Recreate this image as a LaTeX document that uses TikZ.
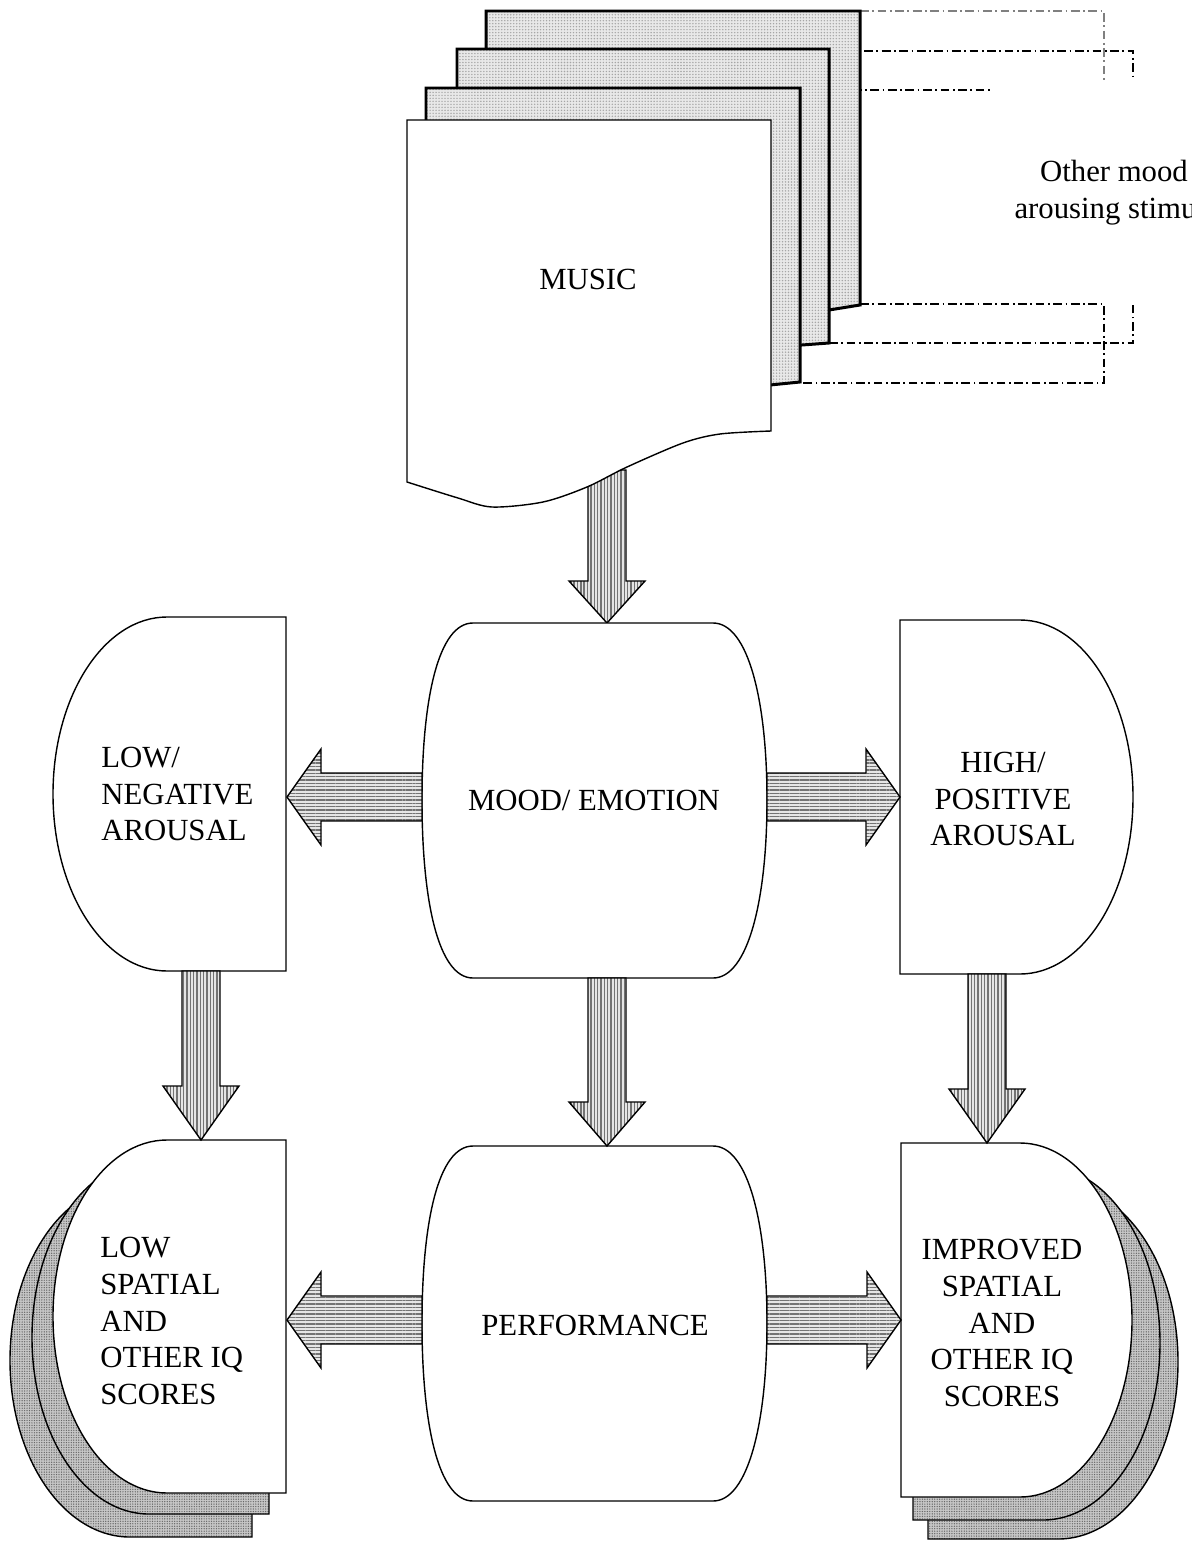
\documentclass[tikz,border=0pt]{standalone}
\usepackage{fontspec}
\setmainfont{Liberation Serif}
\usetikzlibrary{calc,patterns.meta}

\tikzset{
  box/.style={draw,line width=0.8pt,fill=white},
  page/.style={draw,line width=1.7pt,preaction={fill=gray!18},
    pattern={Dots[distance=1.7pt,radius=0.45pt]},pattern color=gray!70},
  shade/.style={draw,line width=0.8pt,preaction={fill=gray!45},
    pattern={Dots[distance=1.4pt,radius=0.4pt]},pattern color=black!60},
  vstripe/.style={draw,line width=0.8pt,preaction={fill=gray!20},
    pattern={Lines[angle=90,distance=1.9pt,line width=0.8pt]},pattern color=black!55},
  hstripe/.style={draw,line width=0.8pt,preaction={fill=gray!20},
    pattern={Lines[angle=0,distance=1.9pt,line width=0.8pt]},pattern color=black!55},
  txt/.style={font=\fontsize{17.5}{21}\selectfont,align=center,inner sep=0pt},
  dashdot/.style={dash pattern=on 5pt off 2pt on 1pt off 2pt},
}

% D shapes: style, left, right, top, bottom, radius
\newcommand{\deeleft}[6]{%
  \draw[#1] (#3,#4) -- ({#2+#6},#4)
    .. controls ({#2+0.4477*#6},#4) and (#2,{#4+0.2238*(#5-#4)}) .. (#2,{(#4+#5)/2})
    .. controls (#2,{#5-0.2238*(#5-#4)}) and ({#2+0.4477*#6},#5) .. ({#2+#6},#5)
    -- (#3,#5) -- cycle;}
\newcommand{\deeright}[6]{%
  \draw[#1] (#2,#4) -- ({#3-#6},#4)
    .. controls ({#3-0.4477*#6},#4) and (#3,{#4+0.2238*(#5-#4)}) .. (#3,{(#4+#5)/2})
    .. controls (#3,{#5-0.2238*(#5-#4)}) and ({#3-0.4477*#6},#5) .. ({#3-#6},#5)
    -- (#2,#5) -- cycle;}
% barrel: top
\newcommand{\barrel}[1]{%
  \draw[box] (473,#1) -- (713,#1)
    .. controls (748,#1) and (767,{#1+77}) .. (767,{#1+177})
    .. controls (767,{#1+277}) and (748,{#1+355}) .. (713,{#1+355})
    -- (473,{#1+355})
    .. controls (438,{#1+355}) and (422,{#1+277}) .. (422,{#1+177})
    .. controls (422,{#1+77}) and (438,#1) .. (473,#1) -- cycle;}
% block arrows: from, tip, head length
\newcommand{\downblock}[3]{%
  \draw[vstripe] ($(#1)+(-19,0)$) -- ($(#2)+(-19,-#3)$) -- ($(#2)+(-38,-#3)$) -- (#2)
    -- ($(#2)+(38,-#3)$) -- ($(#2)+(19,-#3)$) -- ($(#1)+(19,0)$) -- cycle;}
% from, tip, direction (1 right, -1 left)
\newcommand{\sideblock}[3]{%
  \draw[hstripe] ($(#1)+(0,-24)$) -- ($(#2)+({-34*#3},-24)$) -- ($(#2)+({-34*#3},-48)$) -- (#2)
    -- ($(#2)+({-34*#3},48)$) -- ($(#2)+({-34*#3},24)$) -- ($(#1)+(0,24)$) -- cycle;}

\begin{document}
\begin{tikzpicture}[x=0.02cm,y=-0.02cm]
  \clip (0,0) rectangle (1191,1541);
  % other stimuli outlines
  \draw [dashdot,gray,line width=0.6pt] (860,11) -- (1104,11) -- (1104,80);
  \draw [dashdot,line width=1.1pt] (829,51) -- (1133,51) -- (1133,78);
  \draw [dashdot,line width=0.8pt] (800,90) -- (992,90);
  \draw [dashdot,line width=0.8pt] (860,304) -- (1104,304) -- (1104,383) -- (800,383);
  \draw [dashdot,line width=1.1pt] (829,343) -- (1133,343) -- (1133,305);
  \node [txt] (other) at (1114,193) {Other mood\\arousing stimuli};
  % music pages
  \draw [page] (486,11) -- (860,11) -- (860,305) -- (829,310) -- (486,325) -- cycle;
  \draw [page] (457,49) -- (829,49) -- (829,343) -- (802,345) -- (457,362) -- cycle;
  \draw [page] (426,88) -- (800,88) -- (800,382) -- (770,385) -- (426,402) -- cycle;
  \coordinate (music-s) at (607,470);
  \coordinate (mood-n) at (607,623);
  \downblock{music-s}{mood-n}{42}
  \draw [box] (407,120) -- (771,120) -- plot [smooth,tension=0.5] coordinates
    {(771,431) (720,434) (683,443) (627,467) (587,487) (543,502) (492,507) (458,498) (407,482)}
    -- cycle;
  \node [txt] (music) at (588,279) {MUSIC};
  % middle row
  \barrel{623}
  \deeleft{box}{53}{286}{617}{971}{114}
  \deeright{box}{900}{1133}{620}{974}{113}
  \node [txt] (mood) at (594,800) {MOOD/ EMOTION};
  \node [txt,align=left,anchor=west] (low) at (101,794) {LOW/\\NEGATIVE\\AROUSAL};
  \node [txt] (high) at (1003,799) {HIGH/\\POSITIVE\\AROUSAL};
  \coordinate (mood-w) at (422,797);
  \coordinate (mood-e) at (767,797);
  \coordinate (low-e) at (287,797);
  \coordinate (high-w) at (900,797);
  \sideblock{mood-w}{low-e}{-1}
  \sideblock{mood-e}{high-w}{1}
  % bottom row
  \barrel{1146}
  \deeleft{shade}{10}{252}{1184}{1537}{120}
  \deeleft{shade}{32}{269}{1161}{1514}{117}
  \deeleft{box}{53}{286}{1140}{1493}{114}
  \deeright{shade}{928}{1178}{1185}{1539}{120}
  \deeright{shade}{913}{1160}{1166}{1520}{117}
  \deeright{box}{901}{1132}{1143}{1497}{112}
  \node [txt] (perf) at (595,1325) {PERFORMANCE};
  \node [txt,align=left,anchor=west] (lowiq) at (100,1321) {LOW\\SPATIAL\\AND\\OTHER IQ\\SCORES};
  \node [txt] (highiq) at (1002,1323) {IMPROVED\\SPATIAL\\AND\\OTHER IQ\\SCORES};
  % down arrows
  \coordinate (low-s) at (201,971);
  \coordinate (mood-s) at (607,978);
  \coordinate (high-s) at (987,974);
  \coordinate (lowiq-n) at (201,1140);
  \coordinate (perf-n) at (607,1146);
  \coordinate (highiq-n) at (987,1143);
  \downblock{low-s}{lowiq-n}{54}
  \downblock{mood-s}{perf-n}{44}
  \downblock{high-s}{highiq-n}{54}
  % side arrows
  \coordinate (perf-w) at (422,1320);
  \coordinate (perf-e) at (767,1320);
  \coordinate (lowiq-e) at (287,1320);
  \coordinate (highiq-w) at (901,1320);
  \sideblock{perf-w}{lowiq-e}{-1}
  \sideblock{perf-e}{highiq-w}{1}
\end{tikzpicture}
\end{document}
